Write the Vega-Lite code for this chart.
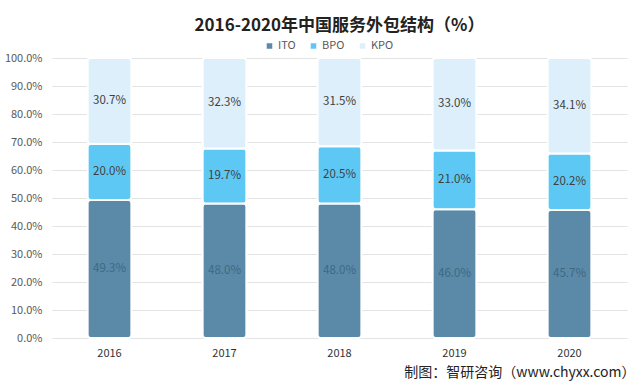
{
  "$schema": "https://vega.github.io/schema/vega-lite/v6.json",
  "width": 575,
  "height": 280,
  "autosize": {"type": "none"},
  "padding": {"left": 52, "top": 58, "right": 13, "bottom": 47},
  "background": "#ffffff",
  "config": {
    "font": "Noto Sans CJK SC",
    "view": {"stroke": null}
  },
  "title": {
    "text": "2016-2020年中国服务外包结构（%）",
    "fontSize": 17,
    "fontWeight": "bold",
    "color": "#222222",
    "anchor": "middle",
    "offset": 5
  },
  "data": {
    "values": [
      {"year": "2016", "type": "ITO", "seg": 1, "value": 49.3},
      {"year": "2016", "type": "BPO", "seg": 2, "value": 20.0},
      {"year": "2016", "type": "KPO", "seg": 3, "value": 30.7},
      {"year": "2017", "type": "ITO", "seg": 1, "value": 48.0},
      {"year": "2017", "type": "BPO", "seg": 2, "value": 19.7},
      {"year": "2017", "type": "KPO", "seg": 3, "value": 32.3},
      {"year": "2018", "type": "ITO", "seg": 1, "value": 48.0},
      {"year": "2018", "type": "BPO", "seg": 2, "value": 20.5},
      {"year": "2018", "type": "KPO", "seg": 3, "value": 31.5},
      {"year": "2019", "type": "ITO", "seg": 1, "value": 46.0},
      {"year": "2019", "type": "BPO", "seg": 2, "value": 21.0},
      {"year": "2019", "type": "KPO", "seg": 3, "value": 33.0},
      {"year": "2020", "type": "ITO", "seg": 1, "value": 45.7},
      {"year": "2020", "type": "BPO", "seg": 2, "value": 20.2},
      {"year": "2020", "type": "KPO", "seg": 3, "value": 34.1}
    ]
  },
  "transform": [
    {"stack": "value", "groupby": ["year"], "sort": [{"field": "seg", "order": "ascending"}], "as": ["v0", "v1"]}
  ],
  "encoding": {
    "x": {
      "field": "year",
      "type": "nominal",
      "scale": {"paddingInner": 0, "paddingOuter": 0},
      "axis": {
        "labelAngle": 0,
        "labelFontSize": 11,
        "labelColor": "#333333",
        "labelPadding": 9,
        "ticks": false,
        "domain": false,
        "title": "制图：智研咨询（www.chyxx.com）",
        "titleAnchor": "end",
        "titleAlign": "right",
        "titleFontSize": 14,
        "titleFontWeight": "normal",
        "titleColor": "#222222",
        "titlePadding": 7,
        "titleX": 583
      }
    }
  },
  "layer": [
    {
      "mark": {"type": "bar", "width": {"band": 0.38}, "stroke": "#ffffff", "strokeWidth": 2, "cornerRadius": 3},
      "encoding": {
        "y": {
          "field": "v0",
          "type": "quantitative",
          "scale": {"domain": [0, 100], "nice": false},
          "axis": {
            "values": [0, 10, 20, 30, 40, 50, 60, 70, 80, 90, 100],
            "labelExpr": "format(datum.value, '.1f') + '%'",
            "labelOverlap": false,
            "labelFontSize": 11,
            "labelColor": "#595959",
            "labelPadding": 10,
            "ticks": false,
            "domain": false,
            "gridColor": "#e3e3e3",
            "title": null
          }
        },
        "y2": {"field": "v1"},
        "color": {
          "field": "type",
          "type": "nominal",
          "sort": ["ITO", "BPO", "KPO"],
          "scale": {"domain": ["ITO", "BPO", "KPO"], "range": ["#5a8aa8", "#5ec8f5", "#ddeffb"]},
          "legend": {
            "title": null,
            "orient": "none",
            "direction": "horizontal",
            "legendX": 212,
            "legendY": -18,
            "symbolType": "square",
            "symbolSize": 50,
            "labelFontSize": 11,
            "labelColor": "#595959",
            "columnPadding": 10,
            "labelOffset": 3
          }
        }
      }
    },
    {
      "transform": [
        {"calculate": "(datum.v0 + datum.v1) / 2", "as": "mid"},
        {"calculate": "format(datum.value, '.1f') + '%'", "as": "label"}
      ],
      "mark": {"type": "text", "fontSize": 11.5, "baseline": "middle"},
      "encoding": {
        "y": {
          "field": "mid",
          "type": "quantitative",
          "scale": {"domain": [0, 100], "nice": false},
          "axis": {
            "values": [0, 10, 20, 30, 40, 50, 60, 70, 80, 90, 100],
            "labelExpr": "format(datum.value, '.1f') + '%'",
            "labelOverlap": false,
            "labelFontSize": 11,
            "labelColor": "#595959",
            "labelPadding": 10,
            "ticks": false,
            "domain": false,
            "gridColor": "#e3e3e3",
            "title": null
          }
        },
        "text": {"field": "label", "type": "nominal"},
        "color": {
          "condition": {"test": "datum.type === 'ITO'", "value": "#3f6884"},
          "value": "#404040"
        }
      }
    }
  ]
}
